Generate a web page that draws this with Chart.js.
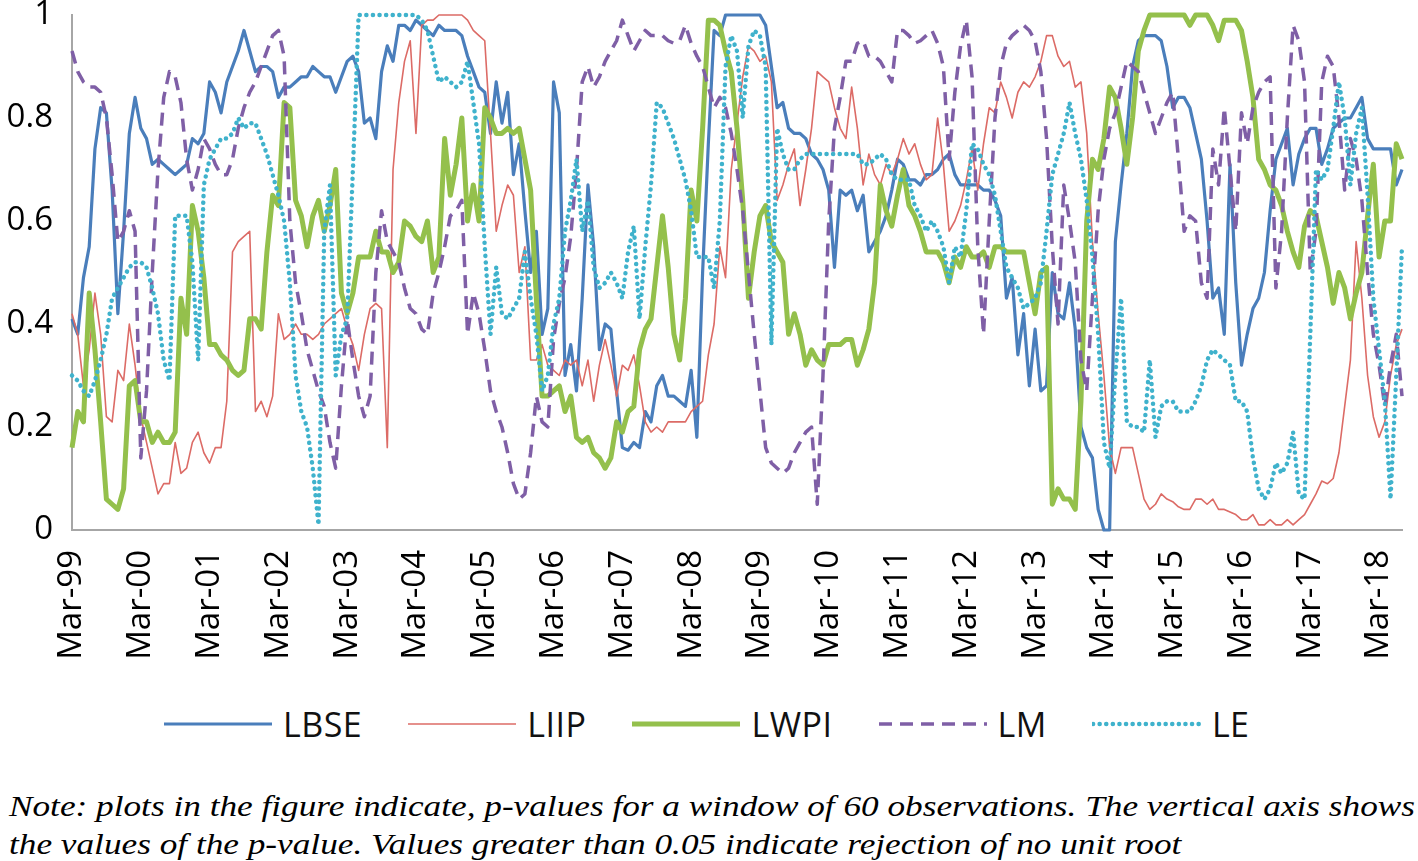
<!DOCTYPE html>
<html>
<head>
<meta charset="utf-8">
<script src="https://cdn.jsdelivr.net/npm/chart.js@4.4.1/dist/chart.umd.min.js"></script>
<style>
  html, body { margin: 0; padding: 0; background: #fff; }
  body { width: 1418px; height: 861px; position: relative; overflow: hidden; font-family: 'Open Sans', sans-serif; }
  #chart { position: absolute; left: 0; top: 0; }
  #legend { position: absolute; left: 163px; top: 702px; height: 44px;
            display: flex; align-items: center; gap: 45px; }
  .item { display: flex; align-items: center; font-size: 34px; letter-spacing: 0.5px; color: #111; }
  .item svg { margin-right: 10px; }
  .note { position: absolute; left: 9px; font-family: 'Liberation Serif', 'Times New Roman', Times, serif; font-style: italic;
          font-size: 30px; white-space: nowrap; transform-origin: 0 0; color: #000; }
</style>
</head>
<body>
<canvas id="chart" width="1418" height="690"></canvas>
<div id="legend"></div>
<div class="note" id="note1" style="top:789px">Note: plots in the figure indicate, p-values for a window of 60 observations. The vertical axis shows</div>
<div class="note" id="note2" style="top:827px">the values of the p-value. Values greater than 0.05 indicate rejection of no unit root</div>

<script>
// monthly p-values, Mar-99 .. Jul-18 (one row per year, starting in March)
const lbse = [
  0.41,0.38,0.49,0.55,0.74,0.82,0.81,0.66,0.42,0.58,0.77,0.84,
  0.78,0.76,0.71,0.72,0.71,0.70,0.69,0.70,0.71,0.76,0.75,0.77,
  0.87,0.85,0.81,0.87,0.90,0.93,0.97,0.93,0.89,0.90,0.90,0.89,
  0.84,0.86,0.86,0.87,0.88,0.88,0.90,0.89,0.88,0.88,0.85,0.88,
  0.91,0.92,0.89,0.79,0.80,0.76,0.89,0.94,0.91,0.98,0.98,0.97,
  0.99,0.98,0.97,0.96,0.98,0.97,0.97,0.97,0.96,0.92,0.89,0.86,
  0.85,0.77,0.87,0.79,0.85,0.69,0.75,0.62,0.50,0.58,0.38,0.43,
  0.87,0.81,0.30,0.36,0.27,0.45,0.67,0.55,0.35,0.40,0.39,0.27,
  0.16,0.155,0.17,0.16,0.23,0.21,0.28,0.30,0.26,0.26,0.25,0.24,
  0.31,0.18,0.50,0.75,0.97,0.96,1,1,1,1,1,1,
  1,0.98,0.90,0.82,0.83,0.78,0.77,0.77,0.76,0.73,0.72,0.70,
  0.66,0.51,0.66,0.65,0.66,0.62,0.65,0.54,0.56,0.58,0.61,0.66,
  0.72,0.71,0.68,0.68,0.67,0.69,0.69,0.70,0.72,0.73,0.69,0.67,
  0.67,0.67,0.67,0.66,0.66,0.64,0.61,0.45,0.49,0.34,0.42,0.28,
  0.39,0.27,0.28,0.50,0.42,0.41,0.48,0.39,0.20,0.16,0.14,0.04,
  0,0,0.56,0.67,0.77,0.90,0.95,0.96,0.96,0.96,0.95,0.90,
  0.82,0.84,0.84,0.82,0.77,0.72,0.60,0.45,0.47,0.38,0.71,0.48,
  0.32,0.38,0.43,0.45,0.50,0.62,0.72,0.75,0.78,0.67,0.73,0.76,
  0.78,0.78,0.71,0.74,0.78,0.79,0.80,0.80,0.82,0.84,0.76,0.74,
  0.74,0.74,0.74,0.67,0.70
];
const liip = [
  0.42,0.38,0.28,0.35,0.46,0.38,0.22,0.21,0.31,0.29,0.40,0.32,
  0.22,0.17,0.12,0.07,0.09,0.09,0.17,0.11,0.12,0.17,0.19,0.15,
  0.13,0.16,0.16,0.25,0.54,0.56,0.57,0.58,0.23,0.25,0.22,0.26,
  0.42,0.37,0.38,0.40,0.38,0.38,0.37,0.38,0.40,0.41,0.42,0.43,
  0.39,0.36,0.31,0.38,0.43,0.44,0.43,0.16,0.70,0.83,0.91,0.95,
  0.77,0.98,0.99,0.99,1,1,1,1,1,0.99,0.97,0.96,
  0.95,0.77,0.58,0.63,0.67,0.65,0.50,0.55,0.33,0.33,0.36,0.32,
  0.31,0.30,0.33,0.32,0.33,0.28,0.33,0.25,0.32,0.37,0.32,0.26,
  0.32,0.31,0.34,0.28,0.21,0.19,0.20,0.19,0.21,0.21,0.21,0.21,
  0.23,0.24,0.25,0.34,0.40,0.55,0.49,0.70,0.79,0.88,0.94,0.93,
  0.91,0.92,0.87,0.64,0.67,0.71,0.74,0.63,0.70,0.78,0.89,0.88,
  0.87,0.82,0.78,0.76,0.86,0.78,0.67,0.73,0.69,0.67,0.71,0.69,
  0.72,0.76,0.73,0.75,0.71,0.68,0.69,0.80,0.71,0.58,0.60,0.63,
  0.68,0.74,0.66,0.75,0.82,0.81,0.87,0.84,0.80,0.85,0.87,0.86,
  0.88,0.91,0.96,0.96,0.92,0.90,0.91,0.86,0.87,0.77,0.56,0.42,
  0.30,0.16,0.11,0.16,0.16,0.16,0.11,0.06,0.04,0.05,0.07,0.06,
  0.055,0.045,0.04,0.04,0.06,0.06,0.05,0.06,0.04,0.04,0.035,0.03,
  0.02,0.02,0.03,0.01,0.01,0.02,0.01,0.01,0.02,0.01,0.02,0.03,
  0.05,0.07,0.095,0.09,0.10,0.15,0.24,0.33,0.56,0.45,0.30,0.22,
  0.18,0.21,0.30,0.36,0.39
];
const lwpi = [
  0.16,0.23,0.21,0.46,0.35,0.21,0.06,0.05,0.04,0.08,0.28,0.29,
  0.21,0.21,0.17,0.19,0.17,0.17,0.19,0.45,0.38,0.63,0.58,0.49,
  0.36,0.36,0.34,0.33,0.31,0.30,0.31,0.41,0.41,0.39,0.54,0.65,
  0.63,0.83,0.82,0.64,0.61,0.55,0.61,0.64,0.58,0.63,0.70,0.46,
  0.42,0.46,0.53,0.53,0.53,0.58,0.54,0.54,0.50,0.52,0.60,0.59,
  0.57,0.56,0.60,0.50,0.53,0.76,0.65,0.71,0.80,0.60,0.67,0.60,
  0.82,0.80,0.77,0.77,0.78,0.77,0.78,0.72,0.66,0.45,0.26,0.26,
  0.27,0.28,0.23,0.26,0.18,0.17,0.18,0.15,0.14,0.12,0.14,0.21,
  0.19,0.23,0.24,0.35,0.39,0.41,0.51,0.61,0.51,0.38,0.33,0.45,
  0.66,0.60,0.78,0.99,0.99,0.98,0.93,0.89,0.78,0.64,0.45,0.54,
  0.61,0.63,0.56,0.54,0.52,0.38,0.42,0.38,0.32,0.35,0.33,0.32,
  0.36,0.36,0.36,0.37,0.37,0.32,0.35,0.39,0.48,0.67,0.62,0.59,
  0.65,0.70,0.63,0.61,0.58,0.54,0.54,0.54,0.52,0.48,0.53,0.51,
  0.55,0.53,0.53,0.54,0.51,0.55,0.55,0.54,0.54,0.54,0.54,0.48,
  0.42,0.50,0.51,0.05,0.08,0.06,0.06,0.04,0.25,0.60,0.72,0.70,
  0.76,0.86,0.84,0.78,0.71,0.80,0.93,0.97,1,1,1,1,
  1,1,1,0.98,1,1,1,0.98,0.95,0.99,0.99,0.99,
  0.97,0.91,0.84,0.72,0.70,0.67,0.66,0.63,0.58,0.54,0.51,0.59,
  0.62,0.61,0.56,0.51,0.44,0.50,0.47,0.41,0.46,0.50,0.61,0.71,
  0.53,0.60,0.60,0.75,0.72
];
const lm = [
  0.93,0.89,0.87,0.86,0.86,0.85,0.80,0.69,0.56,0.58,0.62,0.58,
  0.14,0.27,0.50,0.70,0.84,0.89,0.88,0.83,0.72,0.66,0.70,0.76,
  0.74,0.71,0.69,0.69,0.72,0.78,0.82,0.85,0.87,0.90,0.93,0.96,
  0.97,0.92,0.60,0.48,0.42,0.35,0.31,0.27,0.24,0.17,0.12,0.28,
  0.41,0.33,0.26,0.22,0.26,0.50,0.62,0.56,0.54,0.52,0.47,0.43,
  0.42,0.39,0.38,0.46,0.50,0.55,0.61,0.62,0.64,0.38,0.46,0.42,
  0.35,0.27,0.23,0.20,0.15,0.09,0.06,0.07,0.15,0.26,0.21,0.20,
  0.37,0.44,0.49,0.57,0.70,0.87,0.90,0.86,0.88,0.91,0.93,0.95,
  0.99,0.96,0.93,0.95,0.97,0.96,0.96,0.96,0.95,0.945,0.95,0.98,
  0.945,0.92,0.90,0.86,0.82,0.84,0.82,0.77,0.70,0.62,0.50,0.38,
  0.27,0.16,0.13,0.12,0.11,0.12,0.15,0.17,0.19,0.20,0.05,0.30,
  0.60,0.78,0.84,0.91,0.91,0.945,0.95,0.92,0.92,0.91,0.89,0.87,
  0.97,0.97,0.96,0.945,0.95,0.96,0.97,0.945,0.90,0.72,0.85,0.94,
  0.99,0.88,0.55,0.38,0.60,0.80,0.90,0.945,0.96,0.97,0.98,0.97,
  0.95,0.89,0.76,0.55,0.40,0.67,0.60,0.52,0.33,0.27,0.45,0.62,
  0.72,0.78,0.81,0.86,0.91,0.90,0.89,0.85,0.81,0.77,0.80,0.83,
  0.85,0.72,0.58,0.61,0.60,0.48,0.45,0.74,0.67,0.82,0.70,0.58,
  0.81,0.75,0.82,0.85,0.87,0.88,0.47,0.58,0.80,0.98,0.95,0.87,
  0.50,0.58,0.87,0.92,0.90,0.80,0.66,0.76,0.72,0.64,0.50,0.38,
  0.32,0.24,0.32,0.38,0.26
];
const le = [
  0.30,0.29,0.27,0.26,0.29,0.33,0.38,0.45,0.47,0.49,0.51,0.52,
  0.52,0.51,0.47,0.42,0.33,0.29,0.61,0.61,0.61,0.52,0.33,0.67,
  0.72,0.74,0.76,0.76,0.77,0.80,0.78,0.79,0.79,0.76,0.73,0.69,
  0.65,0.60,0.48,0.30,0.23,0.20,0.12,0.01,0.58,0.67,0.30,0.38,
  0.41,0.70,1,1,1,1,1,1,1,1,1,1,
  1,0.99,0.97,0.92,0.87,0.88,0.87,0.86,0.87,0.91,0.83,0.75,
  0.55,0.38,0.51,0.42,0.41,0.43,0.45,0.54,0.45,0.38,0.27,0.30,
  0.40,0.45,0.58,0.64,0.72,0.58,0.64,0.51,0.47,0.48,0.50,0.48,
  0.45,0.54,0.59,0.41,0.55,0.67,0.83,0.82,0.79,0.76,0.72,0.68,
  0.62,0.53,0.53,0.53,0.47,0.60,0.90,0.96,0.93,0.80,0.94,0.97,
  0.96,0.90,0.36,0.78,0.73,0.70,0.70,0.72,0.73,0.73,0.73,0.73,
  0.73,0.73,0.73,0.73,0.73,0.73,0.71,0.71,0.72,0.73,0.72,0.69,
  0.68,0.68,0.68,0.63,0.61,0.58,0.60,0.58,0.55,0.48,0.55,0.53,
  0.62,0.75,0.74,0.71,0.69,0.65,0.58,0.51,0.49,0.47,0.43,0.44,
  0.45,0.48,0.58,0.69,0.73,0.77,0.83,0.77,0.72,0.64,0.53,0.38,
  0.17,0.12,0.30,0.45,0.21,0.20,0.20,0.19,0.33,0.18,0.24,0.25,
  0.25,0.23,0.23,0.23,0.25,0.28,0.33,0.35,0.34,0.33,0.32,0.25,
  0.25,0.23,0.14,0.08,0.06,0.08,0.13,0.11,0.13,0.19,0.07,0.06,
  0.38,0.70,0.68,0.70,0.78,0.87,0.80,0.67,0.77,0.82,0.65,0.45,
  0.35,0.25,0.06,0.30,0.55
];

const seriesNames = ['LBSE', 'LIIP', 'LWPI', 'LM', 'LE'];
const yTicks = [0, 0.2, 0.4, 0.6, 0.8, 1];
const monthNames = ['Jan','Feb','Mar','Apr','May','Jun','Jul','Aug','Sep','Oct','Nov','Dec'];

// category labels: Mar-99 onwards, one per month
const months = lbse.map((_, k) => {
    const m = 2 + k;
    const yr = (1999 + Math.floor(m / 12)) % 100;
    return monthNames[m % 12] + '-' + String(yr).padStart(2, '0');
});

const styles = [
    { color: '#4a7ebb', width: 3.2, dash: [],         cap: 'butt'  },
    { color: '#dc6b66', width: 1.6, dash: [],         cap: 'butt'  },
    { color: '#94c04c', width: 5,   dash: [],         cap: 'butt'  },
    { color: '#7f5fa6', width: 3.5, dash: [13, 8],    cap: 'butt'  },
    { color: '#3fb2cc', width: 4.5, dash: [0.1, 6.5], cap: 'round' }
];
const values = [lbse, liip, lwpi, lm, le];

const datasets = seriesNames.map((name, k) => ({
    label: name,
    data: values[k],
    borderColor: styles[k].color,
    backgroundColor: styles[k].color,
    borderWidth: styles[k].width,
    borderDash: styles[k].dash,
    borderCapStyle: styles[k].cap,
    borderJoinStyle: 'round',
    pointRadius: 0,
    tension: 0,
    fill: false,
    clip: 10,
    order: 5 - k          // later series drawn on top, like the original
}));

const tickFont = { family: "'Open Sans', sans-serif", size: 33 };

new Chart(document.getElementById('chart'), {
    type: 'line',
    data: { labels: months, datasets },
    options: {
        responsive: false,
        animation: false,
        layout: { padding: { top: 15, right: 16, left: 0, bottom: 0 } },
        plugins: { legend: { display: false }, tooltip: { enabled: false } },
        scales: {
            x: {
                type: 'category',
                offset: false,
                grid: { display: false, drawTicks: false },
                border: { display: true, color: '#a6a6a6', width: 2 },
                ticks: {
                    autoSkip: false,
                    maxRotation: 90,
                    minRotation: 90,
                    padding: 20,
                    color: '#000',
                    font: tickFont,
                    callback: (v, i) => (i % 12 === 0 ? months[i] : null)
                },
                afterFit: s => { s.height = 160; s.paddingLeft = 0; s.paddingRight = 0; }
            },
            y: {
                min: 0,
                max: 1,
                afterBuildTicks: s => { s.ticks = yTicks.map(v => ({ value: v })); },
                grid: { display: false, drawTicks: false },
                border: { display: true, color: '#a6a6a6', width: 2 },
                ticks: { padding: 19, color: '#000', font: tickFont, callback: v => String(v) },
                afterFit: s => { s.width = 72; s.paddingTop = 0; s.paddingBottom = 0; }
            }
        }
    }
});

// legend (html, line samples drawn as svg)
const legend = document.getElementById('legend');
seriesNames.forEach((name, k) => {
    const st = styles[k];
    const item = document.createElement('div');
    item.className = 'item';
    const dashAttr = st.dash.length ? `stroke-dasharray="${st.dash.join(' ')}"` : '';
    item.innerHTML =
        `<svg width="110" height="10"><line x1="1" y1="5" x2="109" y2="5" stroke="${st.color}" ` +
        `stroke-width="${st.width}" stroke-linecap="${st.cap}" ${dashAttr}/></svg><span>${name}</span>`;
    legend.appendChild(item);
});

// squeeze the note to the width of the original
const n1 = document.getElementById('note1');
const n2 = document.getElementById('note2');
const sx = 1406 / n1.getBoundingClientRect().width;
n1.style.transform = `scaleX(${sx})`;
n2.style.transform = `scaleX(${sx})`;
</script>
</body>
</html>
